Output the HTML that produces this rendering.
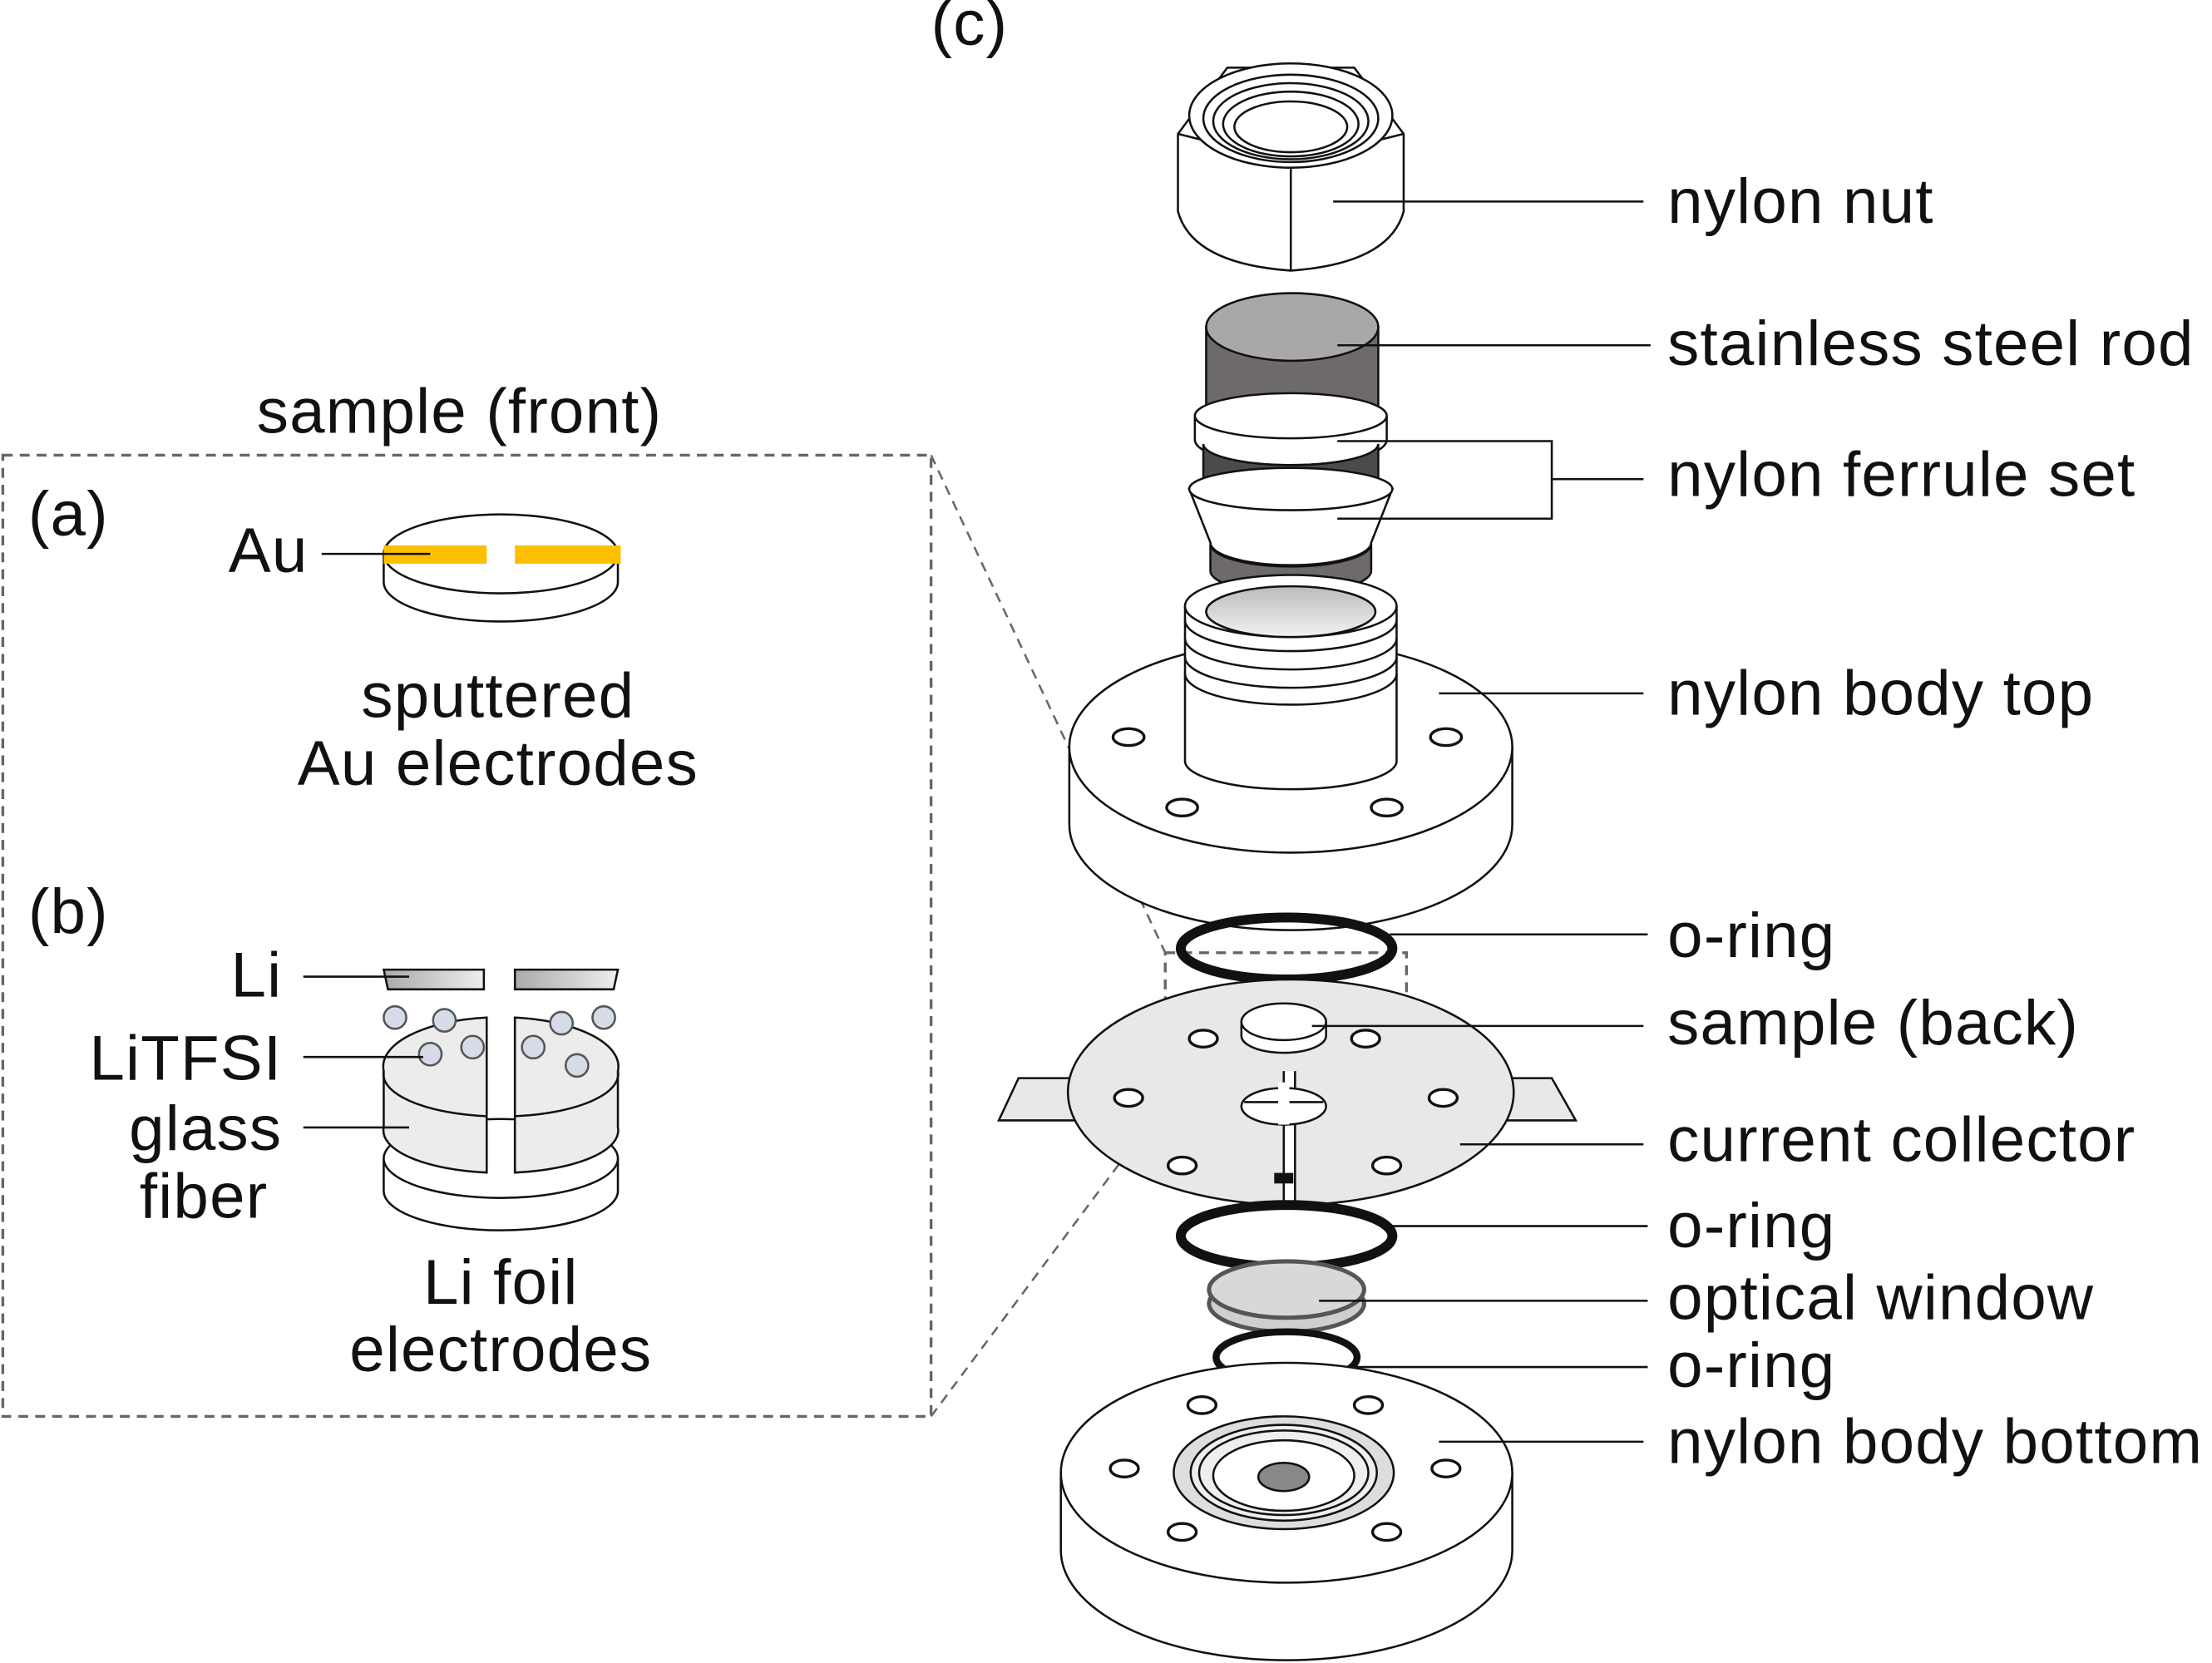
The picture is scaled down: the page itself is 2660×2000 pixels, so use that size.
<!DOCTYPE html>
<html><head><meta charset="utf-8"><style>
html,body{margin:0;padding:0;background:#fff;}
svg{display:block;}
text{font-family:"Liberation Sans",Arial,sans-serif;fill:#111;}
</style></head><body>
<svg width="2660" height="2000" viewBox="0 0 1568 1180" preserveAspectRatio="none" xmlns="http://www.w3.org/2000/svg">
<defs>
<linearGradient id="gw" x1="0" x2="0" y1="0" y2="1"><stop offset="0" stop-color="#bbb"/><stop offset="1" stop-color="#f2f2f2"/></linearGradient>
<linearGradient id="gl" x1="0" x2="1" y1="0" y2="0"><stop offset="0" stop-color="#aaa"/><stop offset="1" stop-color="#eee"/></linearGradient>
</defs>
<g stroke="#111" stroke-width="1.5" fill="none">
<rect x="2" y="323" width="658" height="682" stroke="#666" stroke-width="2" stroke-dasharray="7,5"/>
<rect x="826" y="676" width="171" height="106" stroke="#666" stroke-width="2" stroke-dasharray="7,5"/>
<line x1="660" y1="323" x2="826" y2="676" stroke="#666" stroke-dasharray="7,5"/>
<line x1="660" y1="1005" x2="826" y2="782" stroke="#666" stroke-dasharray="7,5"/>

<!-- nut -->
<path d="M835,95 L835,150 Q845,187 915,192 Q985,187 995,150 L995,95 L960,48 L870,48 Z" fill="#fff"/>
<path d="M835,95 L915,115 L995,95"/>
<line x1="915" y1="115" x2="915" y2="192"/>
<ellipse cx="915" cy="82" rx="72" ry="37" fill="#fff"/>
<ellipse cx="915" cy="84" rx="62" ry="31"/>
<ellipse cx="915" cy="86" rx="55" ry="27"/>
<ellipse cx="915" cy="88" rx="48" ry="23"/>
<ellipse cx="915" cy="90" rx="40" ry="18"/>

<!-- rod -->
<path d="M855,232 L855,300 A61,20 0 0 0 977,300 L977,232 Z" fill="#6d6a69"/>
<ellipse cx="916" cy="232" rx="61" ry="24" fill="#a9a8a7"/>
<!-- ferrule ring -->
<path d="M847,295 L847,312 A68,18 0 0 0 983,312 L983,295" fill="#fff"/>
<ellipse cx="915" cy="295" rx="68" ry="16" fill="#fff"/>
<path d="M853,315 A62,15 0 0 0 977,315 L977,340 A62,15 0 0 1 853,340 Z" fill="#4d4b4a"/>
<!-- cone -->
<path d="M843,347 L858,385 A57,16 0 0 0 972,385 L987,347 Z" fill="#fff"/>
<ellipse cx="915" cy="347" rx="72" ry="15" fill="#fff"/>
<path d="M858,386 A57,16 0 0 0 972,386 L972,405 A57,16 0 0 1 858,405 Z" fill="#6d6a69"/>

<!-- body top flange -->
<path d="M758,530 L758,585 A157,75 0 0 0 1072,585 L1072,530" fill="#fff"/>
<ellipse cx="915" cy="530" rx="157" ry="75" fill="#fff"/>
<path d="M840,430 L840,540 A75,20 0 0 0 990,540 L990,430" fill="#fff"/>
<path d="M840,440 A75,22 0 0 0 990,440 M840,453 A75,22 0 0 0 990,453 M840,466 A75,22 0 0 0 990,466 M840,478 A75,22 0 0 0 990,478"/>
<ellipse cx="915" cy="430" rx="75" ry="22" fill="#fff"/>
<ellipse cx="915" cy="434" rx="60" ry="18" fill="url(#gw)"/>
<g fill="#fff" stroke-width="2">
<ellipse cx="800" cy="523" rx="11" ry="6"/><ellipse cx="1025" cy="523" rx="11" ry="6"/>
<ellipse cx="838" cy="573" rx="11" ry="6"/><ellipse cx="983" cy="573" rx="11" ry="6"/>
</g>

<ellipse cx="912" cy="673" rx="75" ry="22" stroke-width="7"/>

<!-- current collector -->
<polygon points="760,765 722,765 708,795 766,795" fill="#e8e8e8"/>
<polygon points="1068,765 1100,765 1117,795 1062,795" fill="#e8e8e8"/>
<ellipse cx="915" cy="775" rx="158" ry="80" fill="#e8e8e8"/>
<rect x="910" y="760" width="8" height="96" fill="#fff" stroke="none"/>
<line x1="910" y1="760" x2="910" y2="855"/><line x1="918" y1="760" x2="918" y2="855"/>
<rect x="904" y="833" width="12" height="6" fill="#111"/>
<g fill="#fff" stroke-width="2">
<ellipse cx="853" cy="737" rx="10" ry="6"/><ellipse cx="968" cy="737" rx="10" ry="6"/>
<ellipse cx="800" cy="779" rx="10" ry="6"/><ellipse cx="1023" cy="779" rx="10" ry="6"/>
<ellipse cx="838" cy="827" rx="10" ry="6"/><ellipse cx="983" cy="827" rx="10" ry="6"/>
</g>
<path d="M880,725 L880,735 A30,12 0 0 0 940,735 L940,725" fill="#fff"/>
<ellipse cx="910" cy="725" rx="30" ry="13" fill="#fff"/>
<ellipse cx="910" cy="785" rx="30" ry="13" fill="#fff"/>
<line x1="882" y1="782" x2="938" y2="782"/>
<rect x="906" y="768" width="8" height="30" fill="#fff" stroke="none"/>

<ellipse cx="912" cy="877" rx="75" ry="22" stroke-width="7"/>
<ellipse cx="912" cy="925" rx="55" ry="20" fill="#cfcfcf" stroke="#555" stroke-width="3"/>
<ellipse cx="912" cy="915" rx="55" ry="20" fill="#d8d8d8" stroke="#555" stroke-width="3"/>
<ellipse cx="912" cy="963" rx="50" ry="18" stroke-width="5"/>

<!-- body bottom -->
<path d="M752,1045 L752,1100 A160,78 0 0 0 1072,1100 L1072,1045" fill="#fff"/>
<ellipse cx="912" cy="1045" rx="160" ry="78" fill="#fff"/>
<g fill="#fff" stroke-width="2">
<ellipse cx="852" cy="997" rx="10" ry="6"/><ellipse cx="970" cy="997" rx="10" ry="6"/>
<ellipse cx="797" cy="1042" rx="10" ry="6"/><ellipse cx="1025" cy="1042" rx="10" ry="6"/>
<ellipse cx="838" cy="1087" rx="10" ry="6"/><ellipse cx="983" cy="1087" rx="10" ry="6"/>
</g>
<ellipse cx="910" cy="1045" rx="78" ry="40" fill="#ddd"/>
<ellipse cx="910" cy="1045" rx="66" ry="34" fill="#eee"/>
<ellipse cx="910" cy="1045" rx="60" ry="30"/>
<ellipse cx="910" cy="1047" rx="50" ry="25" fill="#fff"/>
<ellipse cx="910" cy="1048" rx="18" ry="10" fill="#888"/>

<!-- (a) disk -->
<path d="M272,393 L272,413 A83,28 0 0 0 438,413 L438,393" fill="#fff"/>
<ellipse cx="355" cy="393" rx="83" ry="28" fill="#fff"/>
<rect x="272" y="387" width="73" height="13" fill="#fdbf00" stroke="none"/>
<rect x="365" y="387" width="75" height="13" fill="#fdbf00" stroke="none"/>
<line x1="228" y1="393" x2="305" y2="393"/>

<!-- (b) -->
<path d="M272,822 L272,845 A83,28 0 0 0 438,845 L438,822" fill="#fff"/>
<ellipse cx="355" cy="822" rx="83" ry="28" fill="#fff"/>
<path d="M345,722 A83,35 0 0 0 272,760 L272,800 A83,30 0 0 0 345,832 Z" fill="#ececec"/>
<path d="M365,722 A83,35 0 0 1 438,760 L438,800 A83,30 0 0 1 365,832 Z" fill="#ececec"/>
<path d="M272,760 A83,30 0 0 0 345,792 M438,760 A83,30 0 0 1 365,792"/>
<polygon points="272,688 343,688 343,702 275,702" fill="url(#gl)"/>
<polygon points="365,688 438,688 435,702 365,702" fill="url(#gl)"/>
<g fill="#d6dbe8" stroke="#555">
<circle cx="280" cy="722" r="8"/><circle cx="315" cy="724" r="8"/><circle cx="398" cy="726" r="8"/><circle cx="428" cy="722" r="8"/>
<circle cx="305" cy="748" r="8"/><circle cx="335" cy="743" r="8"/><circle cx="378" cy="743" r="8"/><circle cx="409" cy="756" r="8"/>
</g>
<line x1="215" y1="693" x2="290" y2="693"/>
<line x1="215" y1="750" x2="300" y2="750"/>
<line x1="215" y1="800" x2="290" y2="800"/>

<line x1="945" y1="143" x2="1165" y2="143"/>
<line x1="948" y1="245" x2="1170" y2="245"/>
<path d="M948,313 L1100,313 L1100,368 L948,368 M1100,340 L1165,340"/>
<line x1="1020" y1="492" x2="1165" y2="492"/>
<line x1="985" y1="663" x2="1168" y2="663"/>
<line x1="930" y1="728" x2="1165" y2="728"/>
<line x1="1035" y1="812" x2="1165" y2="812"/>
<line x1="985" y1="870" x2="1168" y2="870"/>
<line x1="935" y1="923" x2="1168" y2="923"/>
<line x1="960" y1="970" x2="1168" y2="970"/>
<line x1="1020" y1="1023" x2="1165" y2="1023"/>
</g>

<g font-size="45" letter-spacing="0.7">
<text x="660" y="32">(c)</text>
<text x="1182" y="158">nylon nut</text>
<text x="1182" y="259">stainless steel rod</text>
<text x="1182" y="352">nylon ferrule set</text>
<text x="1182" y="507">nylon body top</text>
<text x="1182" y="679">o-ring</text>
<text x="1182" y="741">sample (back)</text>
<text x="1182" y="824">current collector</text>
<text x="1182" y="885">o-ring</text>
<text x="1182" y="936">optical window</text>
<text x="1182" y="984">o-ring</text>
<text x="1182" y="1038">nylon body bottom</text>
<text x="182" y="307">sample (front)</text>
<text x="20" y="380">(a)</text>
<text x="162" y="406">Au</text>
<text x="353" y="509" text-anchor="middle">sputtered</text>
<text x="353" y="557" text-anchor="middle">Au electrodes</text>
<text x="20" y="662">(b)</text>
<text x="200" y="707" text-anchor="end">Li</text>
<text x="200" y="766" text-anchor="end">LiTFSI</text>
<text x="200" y="816" text-anchor="end">glass</text>
<text x="190" y="864" text-anchor="end">fiber</text>
<text x="355" y="925" text-anchor="middle">Li foil</text>
<text x="355" y="973" text-anchor="middle">electrodes</text>
</g>
</svg>
</body></html>
